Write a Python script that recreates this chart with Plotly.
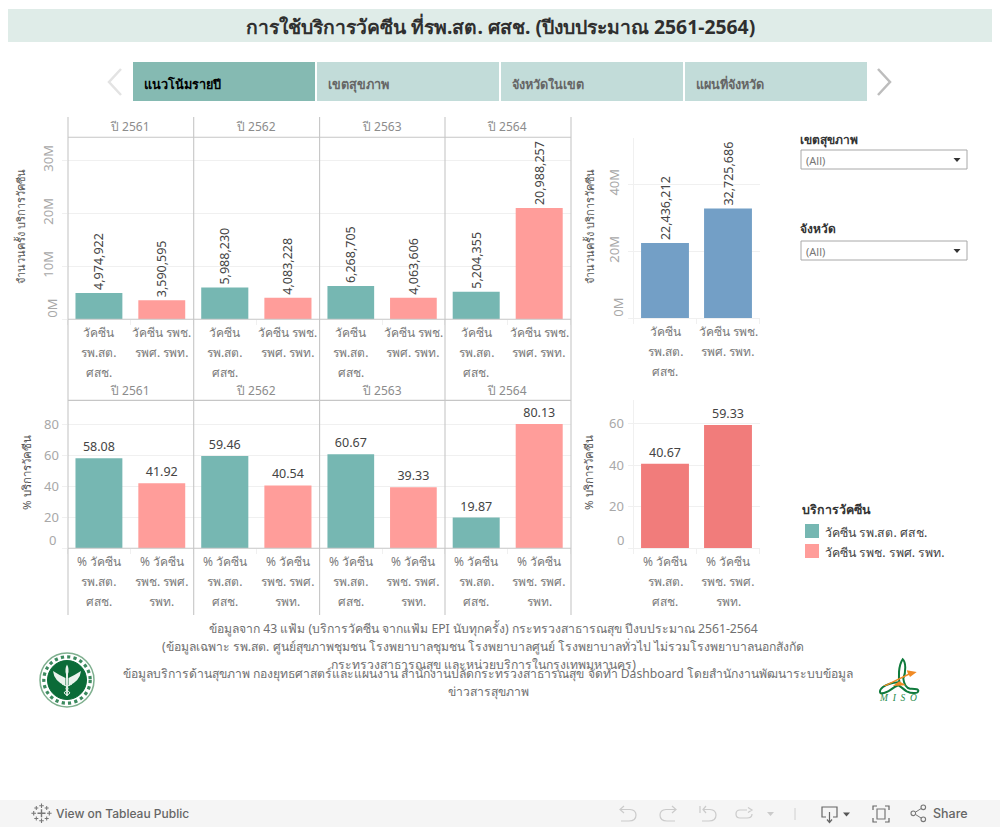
import plotly.graph_objects as go

# ---------- data ----------
years = ["ปี 2561", "ปี 2562", "ปี 2563", "ปี 2564"]
count_cats = ["วัคซีน รพ.สต. ศสช.", "วัคซีน รพช. รพศ. รพท."]
pct_cats = ["% วัคซีน รพ.สต. ศสช.", "% วัคซีน รพช. รพศ. รพท."]
count_lines = [["วัคซีน", "รพ.สต.", "ศสช."], ["วัคซีน รพช.", "รพศ. รพท."]]
pct_lines = [["% วัคซีน", "รพ.สต.", "ศสช."], ["% วัคซีน", "รพช. รพศ.", "รพท."]]
count_sub = [4974922, 5988230, 6268705, 5204355]
count_hosp = [3590595, 4083228, 4063606, 20988257]
pct_sub = [58.08, 59.46, 60.67, 19.87]
pct_hosp = [41.92, 40.54, 39.33, 80.13]
total_counts = [22436212, 32725686]
total_pcts = [40.67, 59.33]
count_ticks = [0, 10e6, 20e6, 30e6]
count_tick_text = ["", "10M", "20M", "30M"]
pct_ticks = [0, 20, 40, 60, 80]
pct_tick_text = ["", "20", "40", "60", "80"]
total_count_ticks = [0, 20e6, 40e6]
total_count_tick_text = ["", "20M", "40M"]
total_pct_ticks = [0, 20, 40, 60]
total_pct_tick_text = ["", "20", "40", "60"]
tabs = ["แนวโน้มรายปี", "เขตสุขภาพ", "จังหวัดในเขต", "แผนที่จังหวัด"]
legend_items = ["วัคซีน รพ.สต. ศสช.", "วัคซีน รพช. รพศ. รพท."]
filters = ["เขตสุขภาพ", "จังหวัด"]
footnotes = [
    ("ข้อมูลจาก 43 แฟ้ม (บริการวัคซีน จากแฟ้ม EPI นับทุกครั้ง) กระทรวงสาธารณสุข ปีงบประมาณ 2561-2564", 483, 628),
    ("(ข้อมูลเฉพาะ รพ.สต. ศูนย์สุขภาพชุมชน โรงพยาบาลชุมชน โรงพยาบาลศูนย์ โรงพยาบาลทั่วไป ไม่รวมโรงพยาบาลนอกสังกัด", 483, 646),
    ("กระทรวงสาธารณสุข และหน่วยบริการในกรุงเทพมหานคร)", 483, 664),
    ("ข้อมูลบริการด้านสุขภาพ กองยุทธศาสตร์และแผนงาน สำนักงานปลัดกระทรวงสาธารณสุข จัดทำ Dashboard โดยสำนักงานพัฒนาระบบข้อมูล", 488, 673),
    ("ข่าวสารสุขภาพ", 488, 691),
]

# ---------- style ----------
W, H = 1000, 827
FONT = "Noto Sans, Lato, sans-serif"
TEAL, PINK, BLUE, RED = "#76B7B2", "#FF9D9A", "#739FC6", "#F17C7B"
GRID, PANEL = "#f0f0f0", "#c6c6c6"
TICKC, LABELC, VALC = "#a8a8a8", "#7a7a7a", "#444444"

def X(px): return px / W
def Y(py): return 1 - py / H

fig = go.Figure()
shapes, ann = [], []

def rect(x0, y0, x1, y1, fill, line=None, lw=0, layer="below"):
    shapes.append(dict(type="rect", xref="paper", yref="paper", x0=X(x0), x1=X(x1), y0=Y(y0), y1=Y(y1),
                       fillcolor=fill, line=dict(color=line or fill, width=lw), layer=layer))

def seg(x0, y0, x1, y1, color=PANEL, w=1.1):
    shapes.append(dict(type="line", xref="paper", yref="paper", x0=X(x0), x1=X(x1), y0=Y(y0), y1=Y(y1),
                       line=dict(color=color, width=w), layer="above"))

def txt(s, x, y, size=12, color=LABELC, anchor="center", bold=False, angle=0, family=FONT, weight=None):
    f = dict(size=size, color=color, family=family)
    if weight:
        f["weight"] = weight
    ann.append(dict(text=f"<b>{s}</b>" if bold else s, xref="paper", yref="paper", x=X(x), y=Y(y), showarrow=False,
                    xanchor=anchor, yanchor="middle", textangle=angle, font=f))

def path(d, color=None, fill=None, w=1.2):
    parts = []
    for tok in d.split():
        if "," in tok:
            a, b = tok.split(",")
            parts.append(f"{X(float(a))},{Y(float(b))}")
        else:
            parts.append(tok)
    shapes.append(dict(type="path", xref="paper", yref="paper", path=" ".join(parts),
                       line=dict(color=color or "rgba(0,0,0,0)", width=w),
                       fillcolor=fill or "rgba(0,0,0,0)", layer="above"))

def circle(cx, cy, r, fill=None, color=None, w=1, dash=None):
    ln = dict(color=color or "rgba(0,0,0,0)", width=w)
    if dash:
        ln["dash"] = dash
    shapes.append(dict(type="circle", xref="paper", yref="paper", x0=X(cx - r), x1=X(cx + r), y0=Y(cy + r), y1=Y(cy - r),
                       fillcolor=fill or "rgba(0,0,0,0)", line=ln, layer="above"))

axis_no = [0]
def add_panel(xl, xr, yt, yb, cats, lines, vals, colors, rng, fmt, tickvals, ticktext, tickangle,
              show_y, zero_text, zero_dx=15.5, framed=True, barw=0.746, standoff=3):
    axis_no[0] += 1
    n = axis_no[0]
    xa, ya = f"xaxis{n}", f"yaxis{n}"
    xr_, yr_ = f"x{n}", f"y{n}"
    fig.add_trace(go.Bar(x=cats, y=vals, xaxis=xr_, yaxis=yr_, width=barw, marker=dict(color=colors, line=dict(width=0)),
                         text=[format(v, fmt) for v in vals], textposition="outside", cliponaxis=False,
                         textangle=tickangle, constraintext="none",
                         textfont=dict(size=12.5, color=VALC, family=FONT), showlegend=False, hoverinfo="x+y"))
    fig.layout[xa] = dict(domain=[X(xl), X(xr)], anchor=yr_, type="category", categoryorder="array", categoryarray=cats,
                          range=[-0.5, 1.5], showticklabels=False, ticks="outside", tickson="boundaries", ticklen=5,
                          tickcolor=GRID, showgrid=False, zeroline=False, showline=not framed, linecolor=GRID)
    fig.layout[ya] = dict(domain=[Y(yb), Y(yt)], anchor=xr_, range=rng, tickmode="array", tickvals=tickvals,
                          ticktext=ticktext, tickangle=tickangle, showticklabels=show_y,
                          tickfont=dict(size=13, color=TICKC, family=FONT), gridcolor=GRID, gridwidth=1,
                          ticks="outside" if show_y else "", ticklen=5, tickcolor=GRID,
                          zeroline=False, showline=not framed, linecolor=GRID, fixedrange=True, ticklabelstandoff=standoff)
    if show_y:
        ann.append(dict(text=zero_text, xref="paper", yref=yr_, x=X(xl - zero_dx), y=0, yshift=10.5 if tickangle else 8,
                        showarrow=False, textangle=tickangle, xanchor="center", yanchor="middle",
                        font=dict(size=13, color=TICKC, family=FONT)))
    for c, ls in zip(cats, lines):
        for i, l in enumerate(ls):
            ann.append(dict(text=l, xref=xr_, yref="paper", x=c, y=Y(yb + 13.5 + 20 * i), showarrow=False,
                            xanchor="center", yanchor="middle", font=dict(size=12, color=LABELC, family=FONT)))

# ---------- page furniture ----------
rect(8, 9, 992, 42, "#DFECE8")
txt("การใช้บริการวัคซีน ที่รพ.สต. ศสช. (ปีงบประมาณ 2561-2564)", 500, 26, size=19.35, color="#2f2f2f", bold=True)
for i, t in enumerate(tabs):
    x0 = 133 + i * 184
    rect(x0, 62, x0 + 182, 101, "#85BAB2" if i == 0 else "#C2DCD9")
    txt(t, x0 + 8.5, 84, size=12.7, color="#000000" if i == 0 else "#666666", anchor="left", bold=True)
path("M 121,69 L 109,82 L 121,95", color="#E3E3E3", w=2.5)
path("M 878,69 L 890,82 L 878,95", color="#BDBDBD", w=2.5)

# ---------- panel frames ----------
lines_x = [68, 193.7, 319.6, 445, 571]
dom_x = [67.5, 193.2, 319.5, 444.7, 570.7]
for x in lines_x:
    seg(x, 117, x, 615)
for y in (137.3, 319.3, 400.4, 548.3):
    seg(68, y, 571, y)

TOP_T, TOP_B = 137.3, 319.3
BOT_T, BOT_B = 400.4, 548.3
for i, yr in enumerate(years):
    xl, xr = dom_x[i], dom_x[i + 1]
    txt(yr, (xl + xr) / 2 - 0.5, 127, size=12, color="#8c8c8c")
    txt(yr, (xl + xr) / 2 - 0.5, 390, size=12, color="#8c8c8c")
    add_panel(xl, xr, TOP_T, TOP_B, count_cats, count_lines, [count_sub[i], count_hosp[i]], [TEAL, PINK],
              [0, 34.34e6], ",d", count_ticks, count_tick_text, -90, i == 0, "0M")
for i in range(4):
    xl, xr = dom_x[i], dom_x[i + 1]
    add_panel(xl, xr, BOT_T, BOT_B, pct_cats, pct_lines, [pct_sub[i], pct_hosp[i]], [TEAL, PINK],
              [0, 95.4], ".2f", pct_ticks, pct_tick_text, 0, i == 0, "0", standoff=0)

add_panel(633.5, 759.5, 138.3, 318.3, count_cats, count_lines, total_counts, [BLUE, BLUE], [0, 53.7e6], ",d",
          total_count_ticks, total_count_tick_text, -90, True, "0M", framed=False, barw=0.76)
add_panel(633.5, 759.5, 400.4, 548.3, pct_cats, pct_lines, total_pcts, [RED, RED], [0, 71.2], ".2f",
          total_pct_ticks, total_pct_tick_text, 0, True, "0", zero_dx=13, framed=False, barw=0.76, standoff=1)

txt("จำนวนครั้ง บริการวัคซีน", 21, 227, size=11, color="#555555", angle=-90)
txt("% บริการวัคซีน", 27, 473, size=11.5, color="#555555", angle=-90)
txt("จำนวนครั้ง บริการวัคซีน", 590, 227, size=11, color="#555555", angle=-90)
txt("% บริการวัคซีน", 589, 473, size=11.5, color="#555555", angle=-90)

# ---------- filters ----------
for name, ty, by in ((filters[0], 139, 150), (filters[1], 229, 241)):
    txt(name, 798, ty, size=12, color="#333333", anchor="left", bold=True)
    rect(801, by, 967, by + 19, "#ffffff", line="#A8A8A8", lw=1)
    txt("(All)", 804, by + 10, size=11, color="#777777", anchor="left")
    path(f"M 953.5,{by+8} L 960.5,{by+8} L 957,{by+12} Z", fill="#333333", w=0)

# ---------- legend ----------
txt("บริการวัคซีน", 800, 510, size=12.4, color="#333333", anchor="left", bold=True)
for item, color, y in zip(legend_items, (TEAL, PINK), (524, 544)):
    rect(805, y, 819, y + 14, color)
    txt(item, 822.5, y + 8, size=12.3, color="#444444", anchor="left")

# ---------- footnotes ----------
for s, x, y in footnotes:
    txt(s, x, y, size=12.2, color="#707070")

# ---------- ministry emblem ----------
circle(67, 680, 27, fill="#ffffff", color="#7FB08F", w=1.5)
circle(67, 680, 23.2, color="#3C8A5F", w=3.2, dash="dot")
circle(67, 680, 19.5, fill="#0B6B38", color="#0B6B38", w=1)
path("M 67,664.5 Q 69.5,669 68,674 L 67.8,696 L 66.2,696 L 66,674 Q 64.5,669 67,664.5 Z", fill="#EAF3ED", w=0)
path("M 53,671 Q 54,681 65.5,686 L 65.5,678 Q 60,675.5 53,671 Z", fill="#EAF3ED", w=0)
path("M 81,671 Q 80,681 68.5,686 L 68.5,678 Q 74,675.5 81,671 Z", fill="#EAF3ED", w=0)
path("M 62,684 Q 72,688 66,691 Q 62,693 67,695", color="#EAF3ED", w=1)
path("M 72,684 Q 62,688 68,691 Q 72,693 67,695", color="#EAF3ED", w=1)

# ---------- MISO emblem ----------
path("M 900,685.3 C 898,678 898.5,665 902.7,659.3 C 906,662 906,672 903.3,678.7 "
     "C 904,684 906,688 910,688.7 C 914,689 919,689 918.3,691 C 918,694 911,693.5 906.7,691.3 "
     "C 903,689 901,686.5 898.3,685.3 C 893,687 890,691 886.7,692 C 883,693.5 880,694 880,692 "
     "C 879.5,688.5 885,685 890,683.7 C 893,683 897,682 900,682", color="#0F7A3C", w=2)
path("M 883,686 L 908,673.7 L 906.7,670.3 L 916.7,672 L 910,677 L 909,675 L 886,686 Z", fill="#F08A24", w=0)
path("M 892.7,686 L 899.3,681.3 L 906,685.3 Z", fill="#F08A24", w=0)
txt("<i>M  I  S  O</i>", 897.5, 698, size=9.5, color="#1F8A4A", family="Liberation Serif")

# ---------- toolbar ----------
rect(0, 800, 1000, 827, "#F5F5F5")
txt("View on Tableau Public", 53.5, 813.5, size=12, color="#666666", anchor="left", family="Inter", weight=500)
txt("Share", 931, 813.5, size=12.5, color="#666666", anchor="left", family="Inter", weight=500)
for cx, cy, arm, lw in ((41.5, 813.3, 4, 1.4), (41.5, 805.8, 2.3, 1.1), (41.5, 820.8, 2.3, 1.1), (33.7, 813.3, 2.3, 1.1),
                        (49.3, 813.3, 2.3, 1.1), (36.3, 808, 2, 1), (46.7, 808, 2, 1), (36.3, 818.5, 2, 1), (46.7, 818.5, 2, 1)):
    path(f"M {cx-arm},{cy} L {cx+arm},{cy} M {cx},{cy-arm} L {cx},{cy+arm}", color="#777777", w=lw)
IC = "#CBCBCB"
path("M 620,809.5 L 630,809.5 Q 636,810 636,815 Q 636,821 629,821 L 621,821 M 624,806 L 620,809.5 L 624,813", color=IC)
path("M 676,809.5 L 666,809.5 Q 660,810 660,815 Q 660,821 667,821 L 675,821 M 672,806 L 676,809.5 L 672,813", color=IC)
path("M 703,809.5 L 710,809.5 Q 716,810 716,815 Q 716,821 709,821 L 702,821 M 706,806 L 703,809.5 L 706,813 M 700,806 L 700,813", color=IC)
path("M 747,810 L 740,810 Q 736,810 736,814 Q 736,818 740,818 L 747,818 Q 752,818 752,814 M 748,807.5 L 752,810 L 748,812.5", color=IC)
path("M 767,812 L 774,812 L 770.5,816 Z", fill=IC, w=0)
seg(795, 808, 795, 820, color="#D0D0D0", w=1)
path("M 826,817 L 822,817 L 822,807 L 837,807 L 837,817 L 833,817", color="#666666")
path("M 829.5,812 L 829.5,822 M 827,819.5 L 829.5,822.5 L 832,819.5", color="#666666")
path("M 843,812.5 L 850,812.5 L 846.5,816.5 Z", fill="#555555", w=0)
path("M 873,810 L 873,806 L 877,806 M 885,806 L 889,806 L 889,810 M 889,818 L 889,822 L 885,822 M 877,822 L 873,822 L 873,818", color="#666666")
path("M 877,809 L 885,809 L 885,819 L 877,819 Z", color="#777777")
circle(913.3, 813.3, 2.3, color="#777777", w=1.1)
circle(923.3, 807.3, 2.3, color="#777777", w=1.1)
circle(923.3, 819.3, 2.3, color="#777777", w=1.1)
path("M 915.4,812.2 L 921.2,808.5 M 915.4,814.4 L 921.2,818.1", color="#777777", w=1)

fig.update_layout(width=W, height=H, margin=dict(l=0, r=0, t=0, b=0), paper_bgcolor="#ffffff", plot_bgcolor="rgba(0,0,0,0)",
                  shapes=shapes, annotations=ann, showlegend=False, bargap=0.25, font=dict(family=FONT))
fig.write_html("out.html", config=dict(displayModeBar=False, responsive=False),
               post_script="document.body.style.margin='0';")
